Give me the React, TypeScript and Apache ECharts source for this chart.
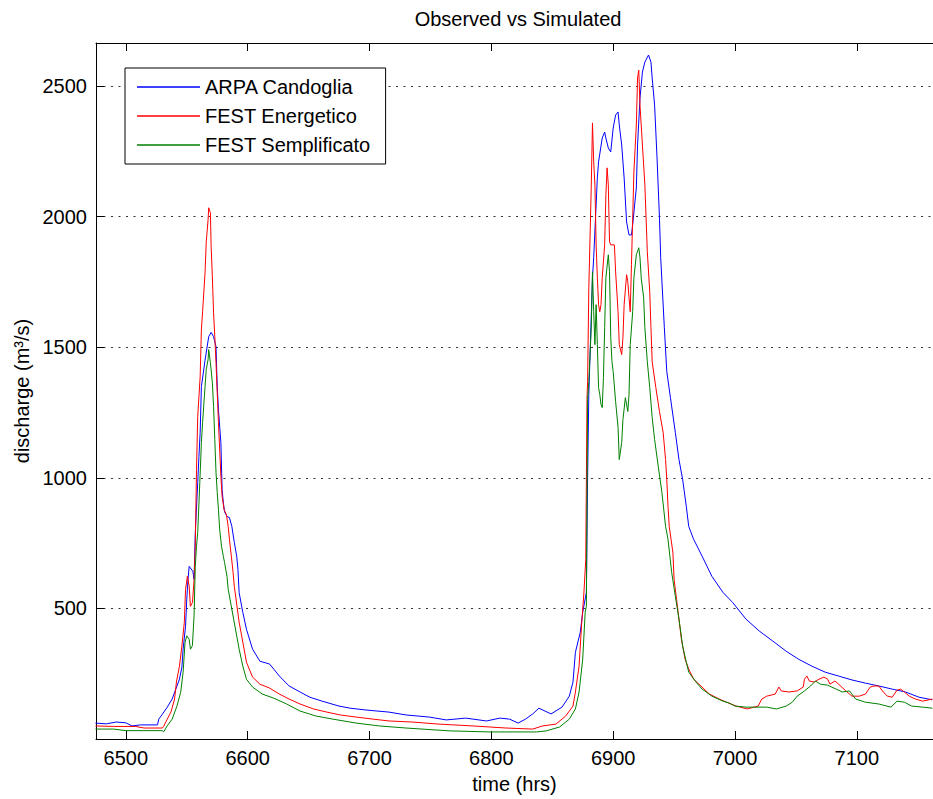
import React, { useEffect, useRef } from "react";
import * as echarts from "echarts";

// x tick values (hours)
const xTickValues = [6500, 6600, 6700, 6800, 6900, 7000, 7100];

// Observed discharge: ARPA Candoglia [time (hrs), discharge (m3/s)]
const arpaCandoglia: [number, number][] = [
  [6475, 61], [6484, 58], [6492, 65], [6500, 62], [6505, 50], [6512, 54], [6526, 54], [6527, 76], [6530, 95], [6534, 122],
  [6538, 153], [6541, 191], [6544, 229], [6546, 275], [6547, 344], [6549, 432], [6550, 535], [6551, 611], [6552, 661], [6555, 642],
  [6556, 611], [6557, 791], [6559, 982], [6560, 1082], [6561, 1174], [6562, 1349], [6565, 1450], [6568, 1540], [6570, 1557], [6572, 1540],
  [6574, 1503], [6575, 1349], [6576, 1261], [6578, 1135], [6579, 955], [6580, 906], [6581, 870], [6583, 852], [6585, 848], [6587, 814],
  [6589, 753], [6591, 700], [6592, 650], [6593, 560], [6596, 485], [6599, 420], [6604, 344], [6610, 298], [6618, 287], [6626, 241],
  [6634, 203], [6643, 180], [6651, 160], [6661, 145], [6675, 126], [6684, 118], [6697, 111], [6716, 103], [6730, 92], [6749, 84],
  [6763, 73], [6779, 80], [6796, 69], [6807, 80], [6815, 76], [6822, 61], [6828, 76], [6834, 96], [6839, 118], [6849, 96],
  [6858, 122], [6864, 164], [6867, 218], [6869, 332], [6873, 409], [6875, 485], [6878, 562], [6879, 1000], [6880, 1319], [6883, 1766],
  [6884, 1843], [6887, 2149], [6888, 2210], [6891, 2301], [6893, 2324], [6894, 2301], [6896, 2263], [6898, 2248], [6900, 2339], [6902, 2389],
  [6904, 2401], [6905, 2351], [6907, 2274], [6909, 2148], [6911, 1980], [6913, 1930], [6915, 1930], [6916, 1969], [6919, 2110], [6920, 2274],
  [6922, 2454], [6924, 2554], [6926, 2592], [6929, 2619], [6931, 2592], [6932, 2531], [6934, 2427], [6936, 2225], [6938, 1995], [6939, 1843],
  [6942, 1575], [6944, 1407], [6947, 1307], [6951, 1174], [6954, 1070], [6957, 994], [6960, 891], [6962, 814], [6966, 765], [6973, 700],
  [6981, 623], [6990, 562], [6998, 523], [7009, 459], [7020, 413], [7031, 375], [7042, 336], [7052, 306], [7063, 279], [7074, 256],
  [7085, 241], [7096, 226], [7107, 214], [7118, 203], [7129, 191], [7140, 180], [7151, 160], [7162, 150],
];

// Simulated: FEST Energetico
const festEnergetico: [number, number][] = [
  [6475, 50], [6490, 48], [6508, 48], [6515, 42], [6530, 42], [6531, 48], [6534, 76], [6537, 103], [6540, 153], [6541.5, 218],
  [6544, 279], [6546, 356], [6548, 447], [6549, 573], [6550.5, 623], [6552, 585], [6553, 508], [6554.7, 523], [6556, 611], [6557, 738],
  [6558, 1032], [6559, 1235], [6561, 1388], [6562, 1567], [6563, 1636], [6565, 1785], [6566, 1904], [6567.5, 1988], [6568, 2034], [6569.4, 2015],
  [6570, 1885], [6571, 1770], [6572, 1632], [6573, 1541], [6574, 1441], [6575, 1327], [6576, 1212], [6577, 1109], [6578, 1006], [6579, 929],
  [6580.6, 879], [6582.5, 860], [6584, 814], [6585, 765], [6586.6, 700], [6588, 638], [6589, 585], [6593, 447], [6596, 371], [6599, 294],
  [6604, 237], [6610, 210], [6618, 195], [6626, 172], [6634, 153], [6643, 134], [6654, 115], [6665, 103], [6676, 92], [6689, 84],
  [6703, 76], [6716, 69], [6735, 65], [6757, 57], [6785, 50], [6812, 42], [6834, 38], [6842, 50], [6853, 57], [6861, 88],
  [6867, 126], [6869, 180], [6872, 279], [6874, 432], [6876, 562], [6877.5, 688], [6878.5, 1300], [6879, 1369], [6880, 1728], [6882, 2114],
  [6883, 2359], [6884, 2210], [6885, 2122], [6886, 1892], [6887, 1766], [6888, 1663], [6889, 1636], [6890, 1663], [6891, 1766], [6893, 1892],
  [6894, 2084], [6895, 2187], [6896, 2122], [6897, 1904], [6898, 1892], [6901, 1892], [6902, 1789], [6904, 1636], [6905, 1510], [6907, 1472],
  [6908, 1537], [6909, 1663], [6911, 1778], [6912, 1751], [6913, 1690], [6914, 1636], [6915, 1816], [6916, 1995], [6917, 2171], [6919, 2351],
  [6920, 2531], [6921, 2561], [6922, 2427], [6924, 2274], [6926, 2122], [6927, 1995], [6928, 1866], [6930, 1713], [6931, 1575], [6932, 1445],
  [6935, 1346], [6938, 1254], [6941, 1174], [6943, 1070], [6944, 994], [6945, 891], [6946, 814], [6949, 715], [6950, 611], [6952, 535],
  [6954, 459], [6956, 382], [6959, 306], [6962, 268], [6966, 229], [6972, 203], [6979, 172], [6987, 153], [6993, 141], [7001, 126],
  [7010, 115], [7019, 126], [7022, 153], [7026, 164], [7033, 172], [7036, 199], [7038, 184], [7044, 180], [7051, 184], [7056, 199],
  [7057, 229], [7059, 241], [7061, 222], [7065, 218], [7069, 229], [7073, 237], [7076, 229], [7078, 210], [7082, 222], [7085, 210],
  [7091, 184], [7096, 164], [7102, 164], [7107, 172], [7111, 199], [7114, 203], [7118, 203], [7121, 184], [7125, 164], [7129, 160],
  [7133, 187], [7136, 191], [7139, 180], [7143, 164], [7148, 153], [7154, 145], [7162, 153],
];

// Simulated: FEST Semplificato
const festSemplificato: [number, number][] = [
  [6475, 38], [6490, 38], [6500, 32], [6530, 32], [6531, 27], [6534, 51], [6538, 76], [6542, 127], [6545, 179], [6547, 256],
  [6548.6, 371], [6550, 395], [6552, 382], [6553, 344], [6554.6, 357], [6556, 471], [6557, 662], [6558, 738], [6559, 791], [6560.7, 982],
  [6562, 1135], [6563, 1212], [6565, 1349], [6566, 1415], [6567.5, 1453], [6568, 1491], [6569.4, 1441], [6571, 1365], [6572, 1273], [6573, 1147],
  [6574, 1021], [6575, 944], [6576, 879], [6577, 803], [6578.5, 738], [6580, 700], [6581, 676], [6583, 623], [6584, 573], [6593, 344],
  [6596, 279], [6599, 229], [6604, 199], [6612, 172], [6621, 157], [6632, 134], [6643, 107], [6656, 88], [6670, 76], [6689, 61],
  [6708, 50], [6730, 42], [6766, 31], [6799, 27], [6837, 27], [6845, 31], [6856, 46], [6864, 76], [6869, 115], [6872, 180],
  [6875, 306], [6877, 485], [6878, 508], [6879, 1300], [6880, 1369], [6882, 1575], [6883, 1789], [6884, 1636], [6885, 1510], [6886, 1663],
  [6887, 1510], [6888, 1346], [6889, 1319], [6890, 1281], [6891, 1269], [6892, 1384], [6893, 1575], [6894, 1766], [6896, 1854], [6897, 1789],
  [6898, 1537], [6899, 1445], [6900, 1407], [6902, 1292], [6904, 1193], [6905, 1070], [6907, 1135], [6908, 1223], [6910, 1307], [6912, 1254],
  [6913, 1319], [6914, 1510], [6916, 1636], [6917, 1766], [6919, 1854], [6921, 1881], [6922, 1843], [6923, 1766], [6925, 1690], [6926, 1575],
  [6928, 1445], [6930, 1346], [6932, 1231], [6934, 1147], [6937, 1044], [6940, 944], [6943, 814], [6945, 765], [6948, 638], [6951, 547],
  [6954, 459], [6957, 356], [6960, 294], [6962, 256], [6968, 218], [6973, 191], [6981, 164], [6990, 145], [6995, 138], [7000, 126],
  [7009, 122], [7026, 122], [7034, 115], [7042, 126], [7047, 141], [7051, 164], [7057, 184], [7062, 203], [7066, 222], [7070, 210],
  [7076, 206], [7083, 191], [7088, 180], [7094, 184], [7099, 153], [7107, 141], [7118, 134], [7128, 122], [7133, 145], [7139, 141],
  [7145, 126], [7154, 122], [7162, 118],
];

const seriesNames = ["ARPA Candoglia", "FEST Energetico", "FEST Semplificato"];
const seriesColors = ["#0000ff", "#ff0000", "#008000"];

const FONT = '"Liberation Sans", Arial, Helvetica, sans-serif';
const FS = 20;

export default function App() {
  const ref = useRef<HTMLDivElement>(null);

  useEffect(() => {
    if (!ref.current) return;
    const chart = echarts.init(ref.current, null, { renderer: "svg" });
    const datasets = [arpaCandoglia, festEnergetico, festSemplificato];
    const axisLine = { show: true, onZero: false, lineStyle: { color: "#000", width: 1 } };
    const plain = (v: number) => String(v);
    chart.setOption({
      animation: false,
      backgroundColor: "#fff",
      textStyle: { fontFamily: FONT },
      graphic: [
        {
          type: "text",
          x: 518,
          y: 19,
          silent: true,
          style: {
            text: "Observed vs Simulated",
            fontSize: FS,
            fontFamily: FONT,
            fill: "#000",
            align: "center",
            verticalAlign: "middle",
          },
        },
      ],
      legend: {
        data: seriesNames,
        orient: "vertical",
        left: 125,
        top: 68,
        padding: [9, 15, 9, 12],
        itemGap: 9,
        itemWidth: 63,
        itemHeight: 1.5,
        icon: "rect",
        selectedMode: false,
        backgroundColor: "#fff",
        borderColor: "#000",
        borderWidth: 1,
        borderRadius: 0,
        textStyle: { fontSize: FS, lineHeight: 20, color: "#000", fontFamily: FONT },
      },
      grid: { left: 96, top: 43, right: -1, bottom: 59, containLabel: false },
      xAxis: [
        {
          type: "value",
          position: "bottom",
          min: 6475.5,
          max: 7162.5,
          name: "time (hrs)",
          nameLocation: "middle",
          nameGap: 35,
          nameTextStyle: { fontSize: FS, color: "#000", fontFamily: FONT },
          axisLine,
          axisTick: { show: true, inside: true, length: 8, customValues: xTickValues, lineStyle: { color: "#000" } },
          axisLabel: { show: true, customValues: xTickValues, formatter: plain, fontSize: FS, color: "#000", margin: 9, fontFamily: FONT },
          splitLine: { show: false },
        },
        {
          type: "value",
          position: "top",
          min: 6475.5,
          max: 7162.5,
          axisLine,
          axisTick: { show: true, inside: true, length: 8, customValues: xTickValues, lineStyle: { color: "#000" } },
          axisLabel: { show: false },
          splitLine: { show: false },
        },
      ],
      yAxis: {
        type: "value",
        min: 0,
        max: 2665,
        interval: 500,
        name: "discharge (m³/s)",
        nameLocation: "middle",
        nameGap: 64,
        nameTextStyle: { fontSize: FS, color: "#000", fontFamily: FONT },
        axisLine,
        axisTick: { show: true, inside: true, length: 8, lineStyle: { color: "#000" } },
        axisLabel: { formatter: plain, fontSize: FS, color: "#000", margin: 9, showMinLabel: false, showMaxLabel: false, fontFamily: FONT },
        splitLine: { show: true, lineStyle: { color: "#333", width: 1, type: [2, 5.5] } },
      },
      series: datasets.map((d, i) => ({
        name: seriesNames[i],
        type: "line",
        xAxisIndex: 0,
        data: d,
        symbol: "none",
        showSymbol: false,
        silent: true,
        color: seriesColors[i],
        itemStyle: { color: seriesColors[i] },
        lineStyle: { color: seriesColors[i], width: 1 },
        emphasis: { disabled: true },
      })),
    });
    return () => chart.dispose();
  }, []);

  return (
    <div
      ref={ref}
      style={{ position: "fixed", left: 0, top: 0, width: 933, height: 799, background: "#fff" }}
    />
  );
}
